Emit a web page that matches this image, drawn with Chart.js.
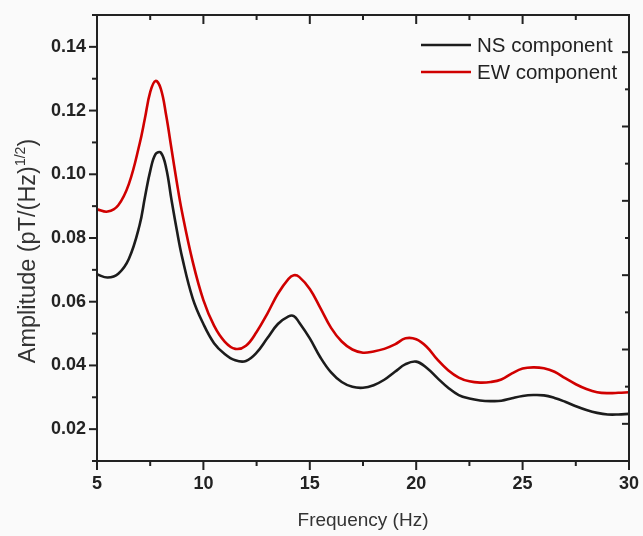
<!DOCTYPE html>
<html lang="en">
<head>
    <meta charset="UTF-8">
    <title>Amplitude spectrum</title>
    <script src="https://cdn.jsdelivr.net/npm/chart.js"></script>
    <style>
        html, body { margin: 0; padding: 0; background: #fafafa; }
        #wrap { width: 643px; height: 536px; }
    </style>
</head>
<body>
    <div id="wrap"><canvas id="spectrum" width="643" height="536"></canvas></div>

    <script>
        // Values
        const freq  = [5, 5.5, 6, 6.5, 7, 7.25, 7.5, 7.75, 8, 8.25, 8.5, 8.75, 9, 9.5, 10, 10.5, 11, 11.5, 12, 12.5,
                       13, 13.5, 14, 14.25, 14.5, 15, 15.5, 16, 16.5, 17, 17.5, 18, 18.5, 19, 19.5, 20, 20.5, 21, 21.5, 22,
                       22.5, 23, 23.5, 24, 24.5, 25, 25.5, 26, 26.5, 27, 27.5, 28, 28.5, 29, 29.5, 30];
        const nsAmp = [0.0686, 0.0676, 0.0688, 0.0735, 0.0840, 0.0927, 0.1010, 0.1063, 0.1068, 0.1020, 0.0920, 0.0825, 0.0740, 0.0610, 0.0530, 0.0470, 0.0436, 0.0416, 0.0414, 0.0440,
                       0.0485, 0.0530, 0.0554, 0.0555, 0.0535, 0.0485, 0.0425, 0.0378, 0.0348, 0.0333, 0.0330, 0.0338, 0.0355, 0.0380, 0.0404, 0.0412, 0.0392, 0.0360, 0.0330, 0.0307,
                       0.0296, 0.0290, 0.0288, 0.0289, 0.0297, 0.0304, 0.0307, 0.0306, 0.0298, 0.0286, 0.0272, 0.0260, 0.0251, 0.0246, 0.0246, 0.0248];
        const ewAmp = [0.0890, 0.0883, 0.0903, 0.0970, 0.1095, 0.1175, 0.1258, 0.1293, 0.1268, 0.1185, 0.1080, 0.0975, 0.0880, 0.0725, 0.0605, 0.0525, 0.0475, 0.0452, 0.0462, 0.0505,
                       0.0562, 0.0625, 0.0672, 0.0683, 0.0678, 0.0640, 0.0580, 0.0518, 0.0475, 0.0450, 0.0440, 0.0444, 0.0452, 0.0466, 0.0485, 0.0482, 0.0458, 0.0418, 0.0385, 0.0362,
                       0.0350, 0.0346, 0.0348, 0.0356, 0.0375, 0.0390, 0.0394, 0.0391, 0.0380, 0.0360, 0.0341, 0.0326, 0.0316, 0.0313, 0.0314, 0.0316];
        const seriesNames = ['NS component', 'EW component'];
        const xTickLabels = [5, 10, 15, 20, 25, 30];
        const yTickLabels = [0.02, 0.04, 0.06, 0.08, 0.10, 0.12, 0.14];

        const FONT = '"Liberation Sans", Arial, sans-serif';
        const AXIS = '#222';

        function isLabel(list, v) {
            return list.some(t => Math.abs(t - v) < 1e-6);
        }

        // box frame + tick marks (left/bottom outward, top/right inward)
        const frameTicks = {
            id: 'frameTicks',
            afterDraw(chart) {
                const { ctx, chartArea: a, scales } = chart;
                ctx.save();
                ctx.strokeStyle = AXIS;
                ctx.lineWidth = 2;
                ctx.strokeRect(a.left, a.top, a.right - a.left, a.bottom - a.top);

                scales.x.ticks.forEach(t => {
                    const px = scales.x.getPixelForValue(t.value);
                    const len = isLabel(xTickLabels, t.value) ? 9 : 5;
                    ctx.beginPath();
                    ctx.moveTo(px, a.bottom); ctx.lineTo(px, a.bottom + len);
                    ctx.moveTo(px, a.top); ctx.lineTo(px, a.top + len);
                    ctx.stroke();
                });
                scales.y.ticks.forEach(t => {
                    const py = scales.y.getPixelForValue(t.value);
                    const len = isLabel(yTickLabels, t.value) ? 8 : 5;
                    ctx.beginPath();
                    ctx.moveTo(a.left, py); ctx.lineTo(a.left - len, py);
                    ctx.stroke();
                });
                scales.y2.ticks.forEach(t => {
                    const py = scales.y2.getPixelForValue(t.value);
                    const len = Math.round(t.value) % 2 === 1 ? 7 : 4;
                    ctx.beginPath();
                    ctx.moveTo(a.right, py); ctx.lineTo(a.right - len, py);
                    ctx.stroke();
                });
                ctx.restore();
            }
        };

        // legend inside the plot, top right
        const innerLegend = {
            id: 'innerLegend',
            afterDraw(chart) {
                const { ctx, chartArea: a } = chart;
                ctx.save();
                ctx.font = '20.5px ' + FONT;
                ctx.textBaseline = 'middle';
                ctx.fillStyle = '#222';
                chart.data.datasets.forEach((ds, i) => {
                    const y = a.top + 30 + i * 27;
                    ctx.strokeStyle = ds.borderColor;
                    ctx.lineWidth = 2.5;
                    ctx.beginPath();
                    ctx.moveTo(a.right - 208, y); ctx.lineTo(a.right - 158, y);
                    ctx.stroke();
                    ctx.fillText(ds.label, a.right - 152, y + 1);
                });
                ctx.restore();
            }
        };

        // y title with superscript
        const yTitle = {
            id: 'yTitle',
            afterDraw(chart) {
                const { ctx } = chart;
                const main = 'Amplitude (pT/(Hz)', sup = '1/2', tail = ')';
                ctx.save();
                ctx.fillStyle = '#333';
                ctx.translate(35, 251);
                ctx.rotate(-Math.PI / 2);
                ctx.textBaseline = 'alphabetic';
                ctx.font = '23.5px ' + FONT;
                const w1 = ctx.measureText(main).width;
                const w3 = ctx.measureText(tail).width;
                ctx.font = '14px ' + FONT;
                const w2 = ctx.measureText(sup).width;
                let x = -(w1 + w2 + w3) / 2;
                ctx.font = '23.5px ' + FONT;
                ctx.fillText(main, x, 0);
                x += w1;
                ctx.font = '14px ' + FONT;
                ctx.fillText(sup, x, -10);
                x += w2;
                ctx.font = '23.5px ' + FONT;
                ctx.fillText(tail, x, 0);
                ctx.restore();
            }
        };

        const ctx = document.getElementById('spectrum').getContext('2d');
        const spectrum = new Chart(ctx, {
            type: 'line',
            data: {
                datasets: [
                    { label: seriesNames[0], data: freq.map((f, i) => ({ x: f, y: nsAmp[i] })), borderColor: '#1c1c1c' },
                    { label: seriesNames[1], data: freq.map((f, i) => ({ x: f, y: ewAmp[i] })), borderColor: '#d00000' }
                ]
            },
            options: {
                responsive: false,
                animation: false,
                layout: { padding: { left: 0, top: 15, right: 14, bottom: 0 } },
                elements: {
                    point: { radius: 0 },
                    line: { borderWidth: 2.6, tension: 0.4, fill: false }
                },
                plugins: { legend: { display: false }, tooltip: { enabled: false } },
                scales: {
                    x: {
                        type: 'linear', min: 5, max: 30,
                        grid: { display: false, drawTicks: false },
                        border: { display: false },
                        ticks: {
                            stepSize: 2.5, padding: 12, color: AXIS, maxRotation: 0, autoSkip: false,
                            font: { family: FONT, size: 18, weight: 'bold' },
                            callback: v => isLabel(xTickLabels, v) ? String(v) : ''
                        },
                        title: {
                            display: true, text: 'Frequency (Hz)', color: '#333', padding: { top: 12 },
                            font: { family: FONT, size: 19 }
                        },
                        afterFit: s => { s.height = 75; s.paddingLeft = 0; s.paddingRight = 0; }
                    },
                    y: {
                        min: 0.01, max: 0.15,
                        grid: { display: false, drawTicks: false },
                        border: { display: false },
                        ticks: {
                            stepSize: 0.01, padding: 11, color: AXIS, autoSkip: false,
                            font: { family: FONT, size: 18, weight: 'bold' },
                            callback: v => isLabel(yTickLabels, v) ? v.toFixed(2) : ''
                        },
                        afterFit: s => { s.width = 97; s.paddingTop = 0; s.paddingBottom = 0; }
                    },
                    y2: {
                        position: 'right', min: 0, max: 12,
                        grid: { display: false, drawTicks: false },
                        border: { display: false },
                        ticks: { stepSize: 1, display: false },
                        afterFit: s => { s.width = 0; s.paddingTop = 0; s.paddingBottom = 0; }
                    }
                }
            },
            plugins: [frameTicks, innerLegend, yTitle]
        });
    </script>
</body>
</html>
